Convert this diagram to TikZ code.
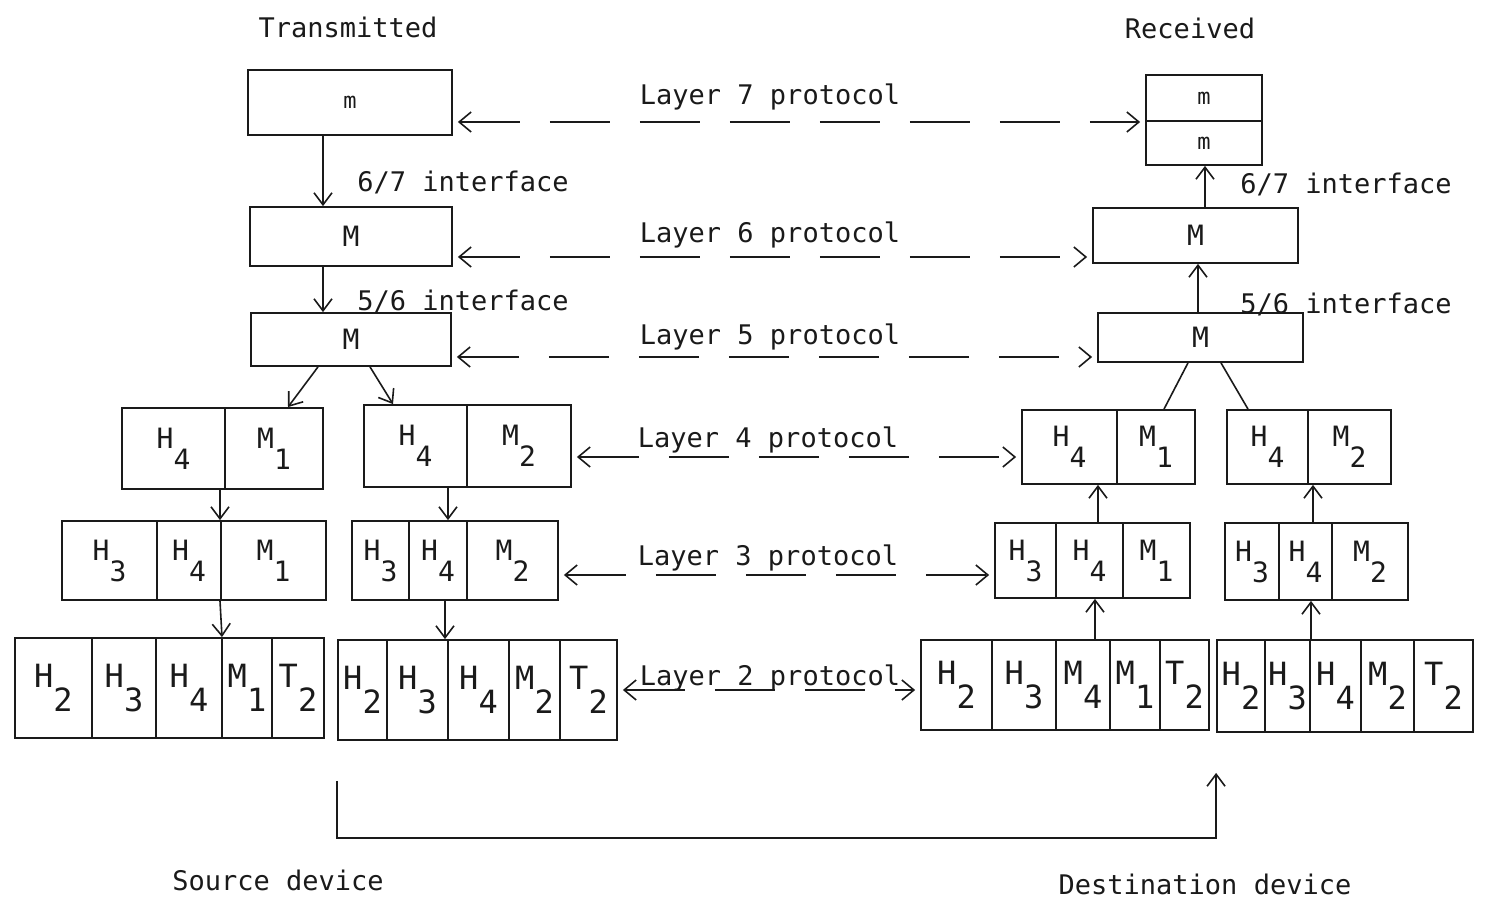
\documentclass[tikz,border=0pt]{standalone}
\usepackage{fontspec}
\usepackage{tikz}
\usetikzlibrary{
  arrows.meta,
  calc
}
\newfontfamily\typefont{DejaVu Sans Mono}
\definecolor{osiInk}{HTML}{1A1A1A}
\newcommand{\lowsub}[1]{\raisebox{-0.75em}{#1}}
\tikzset{
  osinode/.style={draw=osiInk, line width=0.9pt, inner sep=0pt, text=osiInk,
    font=\typefont\fontsize{14}{14}\selectfont},
  pdu/.style={osinode},
  bigpdu/.style={osinode, font=\typefont\fontsize{16}{16}\selectfont},
  msgbox/.style={osinode, font=\typefont\fontsize{11}{11}\selectfont},
  txt/.style={font=\typefont\fontsize{13.5}{16}\selectfont, text=osiInk, inner sep=0pt},
  iface/.style={-{Straight Barb[length=6pt,width=9pt]}, line width=0.8pt, draw=osiInk},
  forkline/.style={line width=0.8pt, draw=osiInk},
  protocol/.style={{Straight Barb[length=6pt,width=10pt]}-{Straight Barb[length=6pt,width=10pt]},
    line width=0.8pt, draw=osiInk, dash pattern=on 30pt off 15pt,
    shorten <=2.5pt, shorten >=2.5pt},
  transfer/.style={-{Straight Barb[length=6pt,width=9pt]}, line width=0.8pt, draw=osiInk}
}

\begin{document}
\begin{tikzpicture}[x=0.5pt, y=-0.5pt]
  \useasboundingbox (0,0) rectangle (1485,898);

  \node[txt] (tx) at (348,27) {Transmitted};
  \node[txt] (rx) at (1190,28) {Received};

  % source device, layers 7 to 5
  \node[msgbox, minimum width=102pt, minimum height=32.5pt] (m7L) at (350,102.5) {m};
  \node[osinode, minimum width=101pt, minimum height=29.5pt] (M6L) at (351,236.5) {M};
  \node[osinode, minimum width=100pt, minimum height=26.5pt] (M5L) at (351,339.5) {M};

  % destination device, layers 7 to 5
  \node[msgbox, minimum width=58pt, minimum height=23pt] (m7Rt) at (1204,98) {m};
  \node[msgbox, minimum width=58pt, minimum height=22pt] (m7Rb) at (1204,143) {m};
  \node[osinode, minimum width=102.5pt, minimum height=27.5pt] (M6R) at (1195.5,235.5) {M};
  \node[osinode, minimum width=102.5pt, minimum height=24.5pt] (M5R) at (1200.5,337.5) {M};

  % source device, layer 4
  \foreach \n/\xa/\xb/\field in {1/122/225/{H\lowsub4}, 2/225/323/{M\lowsub1}}
    \node[pdu, minimum width={(\xb-\xa)*0.5pt}, minimum height=40.5pt] (L4a\n) at ({(\xa+\xb)/2},448.5) {\field};
  \foreach \n/\xa/\xb/\field in {1/364/467/{H\lowsub4}, 2/467/571/{M\lowsub2}}
    \node[pdu, minimum width={(\xb-\xa)*0.5pt}, minimum height=41pt] (L4b\n) at ({(\xa+\xb)/2},446) {\field};

  % source device, layer 3
  \foreach \n/\xa/\xb/\field in {1/62/157/{H\lowsub3}, 2/157/221/{H\lowsub4}, 3/221/326/{M\lowsub1}}
    \node[pdu, minimum width={(\xb-\xa)*0.5pt}, minimum height=39.5pt] (L3a\n) at ({(\xa+\xb)/2},560.5) {\field};
  \foreach \n/\xa/\xb/\field in {1/352/409/{H\lowsub3}, 2/409/467/{H\lowsub4}, 3/467/558/{M\lowsub2}}
    \node[pdu, minimum width={(\xb-\xa)*0.5pt}, minimum height=39.5pt] (L3b\n) at ({(\xa+\xb)/2},560.5) {\field};

  % source device, layer 2
  \foreach \n/\xa/\xb/\field in {1/15/92/{H\lowsub2}, 2/92/156/{H\lowsub3}, 3/156/222/{H\lowsub4},
      4/222/272/{M\lowsub1}, 5/272/324/{T\lowsub2}}
    \node[bigpdu, minimum width={(\xb-\xa)*0.5pt}, minimum height=50pt] (L2a\n) at ({(\xa+\xb)/2},688) {\field};
  \foreach \n/\xa/\xb/\field in {1/338/387/{H\lowsub2}, 2/387/448/{H\lowsub3}, 3/448/509/{H\lowsub4},
      4/509/560/{M\lowsub2}, 5/560/617/{T\lowsub2}}
    \node[bigpdu, minimum width={(\xb-\xa)*0.5pt}, minimum height=50pt] (L2b\n) at ({(\xa+\xb)/2},690) {\field};

  % destination device, layer 4
  \foreach \n/\xa/\xb/\field in {1/1022/1117/{H\lowsub4}, 2/1117/1195/{M\lowsub1}}
    \node[pdu, minimum width={(\xb-\xa)*0.5pt}, minimum height=37pt] (R4a\n) at ({(\xa+\xb)/2},447) {\field};
  \foreach \n/\xa/\xb/\field in {1/1227/1308/{H\lowsub4}, 2/1308/1391/{M\lowsub2}}
    \node[pdu, minimum width={(\xb-\xa)*0.5pt}, minimum height=37pt] (R4b\n) at ({(\xa+\xb)/2},447) {\field};

  % destination device, layer 3
  \foreach \n/\xa/\xb/\field in {1/995/1056/{H\lowsub3}, 2/1056/1123/{H\lowsub4}, 3/1123/1190/{M\lowsub1}}
    \node[pdu, minimum width={(\xb-\xa)*0.5pt}, minimum height=37.5pt] (R3a\n) at ({(\xa+\xb)/2},560.5) {\field};
  \foreach \n/\xa/\xb/\field in {1/1225/1279/{H\lowsub3}, 2/1279/1332/{H\lowsub4}, 3/1332/1408/{M\lowsub2}}
    \node[pdu, minimum width={(\xb-\xa)*0.5pt}, minimum height=38.5pt] (R3b\n) at ({(\xa+\xb)/2},561.5) {\field};

  % destination device, layer 2
  \foreach \n/\xa/\xb/\field in {1/921/992/{H\lowsub2}, 2/992/1056/{H\lowsub3}, 3/1056/1110/{M\lowsub4},
      4/1110/1160/{M\lowsub1}, 5/1160/1209/{T\lowsub2}}
    \node[bigpdu, minimum width={(\xb-\xa)*0.5pt}, minimum height=45pt] (R2a\n) at ({(\xa+\xb)/2},685) {\field};
  \foreach \n/\xa/\xb/\field in {1/1217/1265/{H\lowsub2}, 2/1265/1310/{H\lowsub3}, 3/1310/1361/{H\lowsub4},
      4/1361/1414/{M\lowsub2}, 5/1414/1473/{T\lowsub2}}
    \node[bigpdu, minimum width={(\xb-\xa)*0.5pt}, minimum height=46pt] (R2b\n) at ({(\xa+\xb)/2},686) {\field};

  % interfaces
  \node[txt, anchor=west] (if67L) at (357,182) {6/7 interface};
  \node[txt, anchor=west] (if56L) at (357,301) {5/6 interface};
  \node[txt, anchor=west] (if67R) at (1240,184) {6/7 interface};
  \node[txt, anchor=west] (if56R) at (1240,304) {5/6 interface};

  \draw[iface] (m7L.south -| 323,0) -- (M6L.north -| 323,0);
  \draw[iface] (M6L.south -| 323,0) -- (M5L.north -| 323,0);
  \draw[iface] (M5L.south -| 318,0) -- (L4a2.north -| 288,0);
  \draw[iface] (M5L.south -| 370,0) -- (L4b1.north -| 393,0);
  \draw[iface] (L4a2.south -| 220,0) -- (L3a3.north -| 220,0);
  \draw[iface] (L4b1.south -| 448,0) -- (L3b2.north -| 448,0);
  \draw[iface] (L3a3.south -| 220,0) -- (L2a4.north -| 222,0);
  \draw[iface] (L3b2.south -| 445,0) -- (L2b3.north -| 445,0);

  \draw[iface] (R2a3.north -| 1095,0) -- (R3a2.south -| 1095,0);
  \draw[iface] (R2b3.north -| 1311,0) -- (R3b2.south -| 1311,0);
  \draw[iface] (R3a2.north -| 1098,0) -- (R4a1.south -| 1098,0);
  \draw[iface] (R3b2.north -| 1313,0) -- (R4b2.south -| 1313,0);
  \draw[forkline] (M5R.south -| 1188,0) -- (R4a2.north -| 1164,0);
  \draw[forkline] (M5R.south -| 1221,0) -- (R4b1.north -| 1248,0);
  \draw[iface] (M5R.north -| 1198,0) -- (M6R.south -| 1198,0);
  \draw[iface] (M6R.north -| 1205,0) -- (m7Rb.south -| 1205,0);

  % peer protocols
  \node[txt] (p7) at (770,97) {Layer 7 protocol};
  \node[txt] (p6) at (770,235) {Layer 6 protocol};
  \node[txt] (p5) at (770,337) {Layer 5 protocol};
  \node[txt] (p4) at (768,440) {Layer 4 protocol};
  \node[txt] (p3) at (768,558) {Layer 3 protocol};
  \node[txt] (p2) at (770,678) {Layer 2 protocol};

  \draw[protocol] (m7L.east |- 0,122) -- (m7Rt.west |- 0,122);
  \draw[protocol] (M6L.east |- 0,257) -- (M6R.west |- 0,257);
  \draw[protocol] (M5L.east |- 0,357) -- (M5R.west |- 0,357);
  \draw[protocol] (L4b2.east |- 0,457) -- (R4a1.west |- 0,457);
  \draw[protocol] (L3b3.east |- 0,575) -- (R3a1.west |- 0,575);
  \draw[protocol] (L2b5.east |- 0,690) -- (R2a1.west |- 0,690);

  % physical medium
  \coordinate (srcpt) at ([yshift=-20pt]L2b1.south west);
  \coordinate (dstpt) at ([yshift=-20pt]R2b1.south west);
  \draw[transfer] (srcpt) -- ++(0,57) -| (dstpt);

  \node[txt] (src) at (278,880) {Source device};
  \node[txt] (dst) at (1205,884) {Destination device};
\end{tikzpicture}
\end{document}
